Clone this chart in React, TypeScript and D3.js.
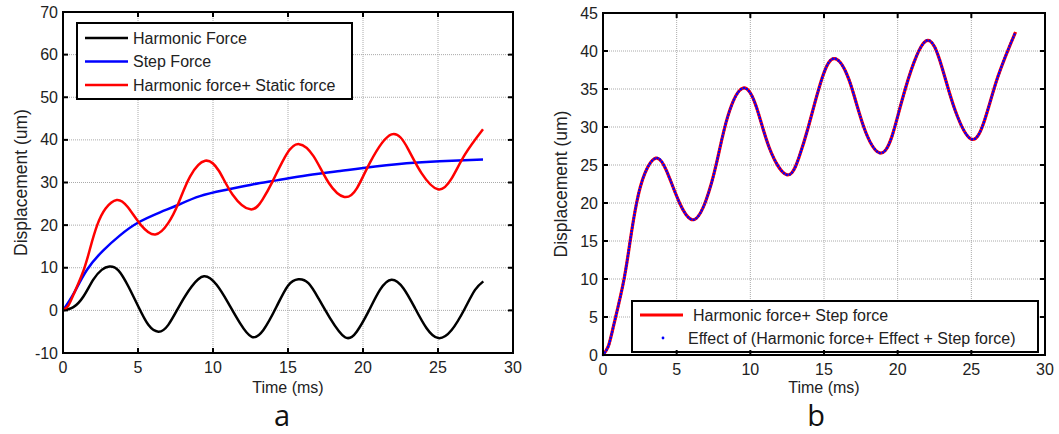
import React from 'react';
import * as d3 from 'd3';

const xTicks = [0, 5, 10, 15, 20, 25, 30];
const leftYTicks = [-10, 0, 10, 20, 30, 40, 50, 60, 70];
const rightYTicks = [0, 5, 10, 15, 20, 25, 30, 35, 40, 45];

// [time (ms), displacement (um)]
const harmonicForce: [number, number][] = [
  [0, 0], [0.69, 0.75], [1.36, 3.25], [2.02, 7.2], [2.58, 9.5], [3.09, 10.3], [3.69, 9.4],
  [4.36, 5.6], [5.02, 0.9], [5.69, -3.4], [6.36, -5.0], [7.02, -3.4], [7.8, 1.3], [8.58, 5.6],
  [9.4, 8.0], [10.24, 6.0], [11.02, 1.7], [11.8, -3.0], [12.58, -6.2], [13.36, -4.6],
  [14.24, 0.9], [15.0, 5.8], [15.69, 7.3], [16.36, 6.4], [17.02, 2.9], [17.8, -1.8],
  [18.8, -6.3], [19.58, -5.0], [20.36, -0.3], [21.13, 4.8], [21.9, 7.2], [22.69, 5.2],
  [23.47, 0.5], [24.24, -4.2], [25.02, -6.5], [25.91, -4.6], [26.8, 0.5], [27.47, 4.8],
  [28.02, 6.8],
];

const stepForce: [number, number][] = [
  [0, 0], [0.69, 3.8], [1.58, 9.4], [2.69, 14.1], [3.8, 17.6], [4.96, 20.5], [6.47, 23.0],
  [7.58, 24.6], [9.13, 26.8], [10.9, 28.3], [12.7, 29.6], [14.24, 30.5], [16.3, 31.7],
  [18.47, 32.7], [20.02, 33.4], [22.9, 34.5], [25.1, 35.0], [28.0, 35.4],
];

const harmonicPlusStatic: [number, number][] = [
  [0, 0], [0.35, 1.1], [0.7, 3.7], [1.37, 9.4], [1.82, 14.7], [2.28, 20], [2.84, 23.9],
  [3.58, 25.9], [4.3, 24.3], [5.2, 20], [6.15, 17.8], [7.0, 20.4], [7.7, 25.2], [8.47, 31.4],
  [9.48, 35.1], [10.4, 32.7], [11.3, 27.2], [12.5, 23.7], [13.3, 26.0], [13.95, 30.1],
  [14.9, 36.6], [15.74, 39.0], [16.7, 36.2], [17.7, 30], [18.76, 26.6], [19.6, 28.7],
  [20.5, 34.9], [21.9, 41.3], [23.0, 37.9], [23.9, 32.2], [25.0, 28.4], [25.9, 30.9],
  [26.8, 36.6], [28.0, 42.5],
];

const leftLegend = ['Harmonic Force', 'Step Force', 'Harmonic force+ Static force'];
const rightLegend = ['Harmonic force+ Step force', 'Effect of (Harmonic force+ Effect + Step force)'];

const FONT = '"Liberation Sans", Arial, sans-serif';

type Scale = d3.ScaleLinear<number, number>;

function Frame({ x, y, yTicks, children }: { x: Scale; y: Scale; yTicks: number[]; children?: React.ReactNode }) {
  const [x0, x1] = x.range();
  const [y0, y1] = y.range(); // y0 bottom, y1 top
  const tl = 5;
  return (
    <g>
      {/* dotted grid */}
      {xTicks.slice(1, -1).map(t => (
        <line key={'gx' + t} x1={x(t)} x2={x(t)} y1={y0} y2={y1} stroke="#aaa" strokeDasharray="1 1" />
      ))}
      {yTicks.slice(1, -1).map(t => (
        <line key={'gy' + t} x1={x0} x2={x1} y1={y(t)} y2={y(t)} stroke="#aaa" strokeDasharray="1 1" />
      ))}
      {children}
      <rect x={x0} y={y1} width={x1 - x0} height={y0 - y1} fill="none" stroke="#000" strokeWidth={2} />
      {xTicks.map(t => (
        <g key={'tx' + t}>
          <line x1={x(t)} x2={x(t)} y1={y0} y2={y0 - tl} stroke="#000" strokeWidth={2} />
          <line x1={x(t)} x2={x(t)} y1={y1} y2={y1 + tl} stroke="#000" strokeWidth={2} />
          <text x={x(t)} y={y0 + 20} textAnchor="middle" fontSize={16} fill="#222">{t}</text>
        </g>
      ))}
      {yTicks.map(t => (
        <g key={'ty' + t}>
          <line x1={x0} x2={x0 + tl} y1={y(t)} y2={y(t)} stroke="#000" strokeWidth={2} />
          <line x1={x1} x2={x1 - tl} y1={y(t)} y2={y(t)} stroke="#000" strokeWidth={2} />
          <text x={x0 - 5} y={y(t)} dy="0.35em" textAnchor="end" fontSize={16} fill="#222">{t}</text>
        </g>
      ))}
      <text x={(x0 + x1) / 2} y={393} textAnchor="middle" fontSize={16} fill="#222">Time (ms)</text>
      <text transform={`translate(${x0 - 42},${(y0 + y1) / 2}) rotate(-90)`} dy="0.35em" textAnchor="middle" fontSize={17.5} fill="#222">
        Displacement (um)
      </text>
    </g>
  );
}

export default function App() {
  const lx = d3.scaleLinear().domain([0, 30]).range([63, 513]);
  const ly = d3.scaleLinear().domain([-10, 70]).range([353, 12]);
  const rx = d3.scaleLinear().domain([0, 30]).range([603, 1045]);
  const ry = d3.scaleLinear().domain([0, 45]).range([355, 13]);

  const lineL = d3.line<[number, number]>().x(d => lx(d[0])).y(d => ly(d[1])).curve(d3.curveNatural);
  const lineR = d3.line<[number, number]>().x(d => rx(d[0])).y(d => ry(d[1])).curve(d3.curveNatural);

  const leftColors = ['#000', '#0000ff', '#ff0000'];

  return (
    <svg width={1059} height={434} style={{ position: 'absolute', left: 0, top: 0, background: '#fff' }} fontFamily={FONT}>
      <Frame x={lx} y={ly} yTicks={leftYTicks}>
        <path d={lineL(harmonicForce) || ''} fill="none" stroke="#000" strokeWidth={2.5} />
        <path d={lineL(stepForce) || ''} fill="none" stroke="#0000ff" strokeWidth={2.5} />
        <path d={lineL(harmonicPlusStatic) || ''} fill="none" stroke="#ff0000" strokeWidth={2.5} />
        <rect x={77} y={23} width={275} height={76} fill="#fff" stroke="#000" strokeWidth={2} />
        {leftLegend.map((name, i) => (
          <g key={name}>
            <line x1={85} x2={128} y1={38 + i * 23.5} y2={38 + i * 23.5} stroke={leftColors[i]} strokeWidth={2.5} />
            <text x={133} y={38 + i * 23.5} dy="0.35em" fontSize={16} fill="#222">{name}</text>
          </g>
        ))}
      </Frame>

      <Frame x={rx} y={ry} yTicks={rightYTicks}>
        <path d={lineR(harmonicPlusStatic) || ''} fill="none" stroke="#ff0000" strokeWidth={3.2} />
        <path d={lineR(harmonicPlusStatic) || ''} fill="none" stroke="#0000ff" strokeWidth={2.6}
          strokeDasharray="0 3.2" strokeLinecap="round" />
        <rect x={632} y={301} width={406} height={51} fill="#fff" stroke="#000" strokeWidth={2} />
        <line x1={640} x2={683} y1={315} y2={315} stroke="#ff0000" strokeWidth={3} />
        <text x={693} y={315} dy="0.35em" fontSize={16} fill="#222">{rightLegend[0]}</text>
        <circle cx={663} cy={338} r={1.4} fill="#0000ff" />
        <text x={688} y={338} dy="0.35em" fontSize={16} fill="#222">{rightLegend[1]}</text>
      </Frame>

      <text x={282} y={426} textAnchor="middle" fontSize={29} fontFamily='"Open Sans", sans-serif' fill="#111">a</text>
      <text x={816} y={426} textAnchor="middle" fontSize={29} fontFamily='"Open Sans", sans-serif' fill="#111">b</text>
    </svg>
  );
}
